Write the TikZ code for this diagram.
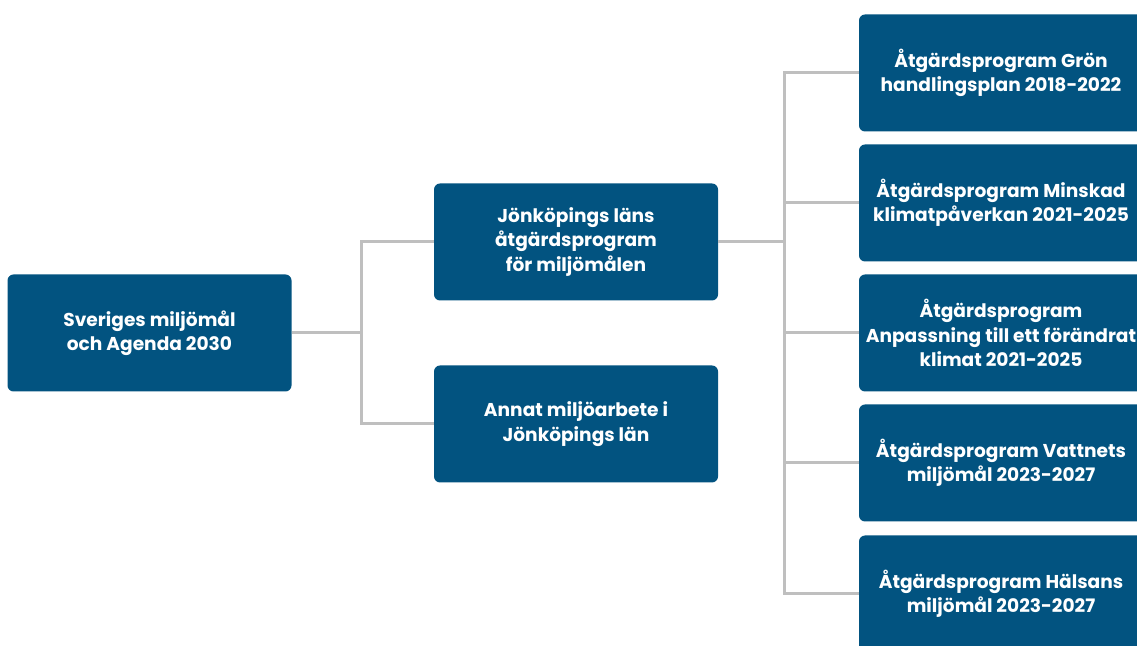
\documentclass[tikz,border=0pt]{standalone}
\usepackage{fontspec}
\setmainfont{Poppins}
\definecolor{boxblue}{RGB}{2,83,128}
\definecolor{linegray}{RGB}{191,191,191}
\begin{document}
\begin{tikzpicture}[x=0.5pt,y=-0.5pt,
    box/.style={fill=boxblue, rounded corners=3pt, text=white, align=center,
      font=\bfseries\fontsize{9.3}{12.2}\selectfont, inner sep=0pt,
      minimum width=142pt, minimum height=58.5pt},
    link/.style={draw=linegray, line width=1.5pt}]
  \useasboundingbox (0,0) rectangle (1137,646);
  \node[box] (sverige) at (149.5,333) {Sveriges miljömål\\och Agenda 2030};
  \node[box] (lansprog) at (576,242) {Jönköpings läns\\åtgärdsprogram\\för miljömålen};
  \node[box] (annat) at (576,424) {Annat miljöarbete i\\Jönköpings län};
  \node[box] (gron) at (1001,73) {Åtgärdsprogram Grön\\handlingsplan 2018-2022};
  \node[box] (klimat) at (1001,203) {Åtgärdsprogram Minskad\\klimatpåverkan 2021-2025};
  \node[box] (anpass) at (1001,333) {Åtgärdsprogram\\Anpassning till ett förändrat\\klimat 2021-2025};
  \node[box] (vatten) at (1001,463) {Åtgärdsprogram Vattnets\\miljömål 2023-2027};
  \node[box] (halsa) at (1001,594) {Åtgärdsprogram Hälsans\\miljömål 2023-2027};
  % branch points
  \coordinate (fork) at (361,333);
  \coordinate (fork2) at (784,242);
  \draw[link] (sverige.east) -- (fork);
  \draw[link] (fork) |- (lansprog.west);
  \draw[link] (fork) |- (annat.west);
  \draw[link] (lansprog.east) -- (fork2);
  \foreach \n in {gron,klimat,anpass,vatten,halsa}
    \draw[link] (fork2) |- (\n.west);
\end{tikzpicture}
\end{document}
